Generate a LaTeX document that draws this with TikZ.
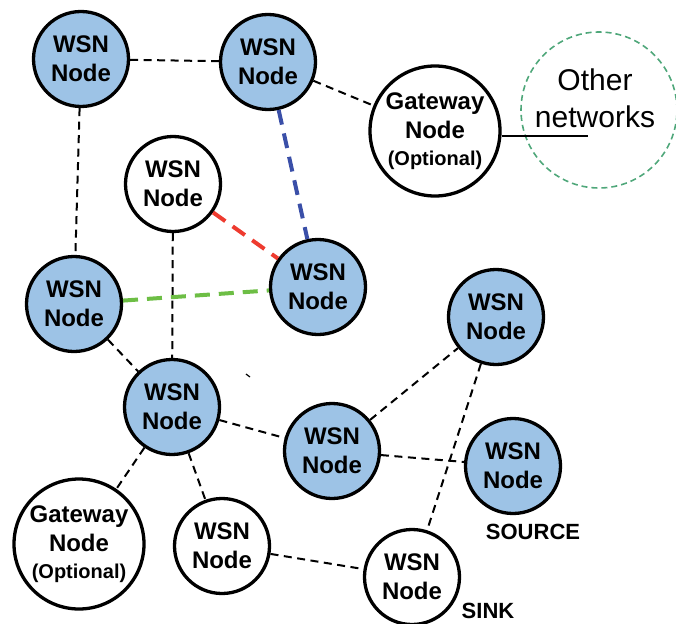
\documentclass[tikz,border=0pt]{standalone}
\usepackage{fontspec}
\setmainfont{Liberation Sans}
\definecolor{nodeblue}{HTML}{9DC3E6}
\definecolor{linkblue}{HTML}{3A4FA8}
\definecolor{linkred}{HTML}{EE3B2F}
\definecolor{linkgreen}{HTML}{6DBE45}
\definecolor{netgreen}{HTML}{4FA77A}
\begin{document}
\begin{tikzpicture}[x=1pt,y=-1pt,
  wsn/.style={circle,draw=black,line width=3.3pt,minimum size=95pt,inner sep=0pt,align=center,
    font=\fontsize{24}{29}\selectfont\bfseries},
  bluenode/.style={wsn,fill=nodeblue},
  whitenode/.style={wsn,fill=white},
  gwnode/.style={wsn,fill=white,minimum size=130pt},
  link/.style={line width=2pt,dash pattern=on 8pt off 5.5pt},
  strong/.style={line width=4pt,dash pattern=on 15pt off 9pt},
  tag/.style={font=\fontsize{22}{26}\selectfont\bfseries,inner sep=0pt}
]
\useasboundingbox (0,0) rectangle (676,623);
% other networks
\node[circle,draw=netgreen,dash pattern=on 6pt off 4pt,line width=1.6pt,minimum size=156pt,inner sep=0pt] (other) at (599,110) {};
\node[font=\fontsize{30}{37}\selectfont,align=center,inner sep=0pt] (othertext) at (595,98) {Other\\networks};
\coordinate (otherend) at (588,136);

\node[bluenode] (A) at (81,59) {WSN\\Node};
\node[bluenode] (B) at (268,62) {WSN\\Node};
\node[gwnode] (GT) at (435,131) {Gateway\\Node\\[-2pt]{\fontsize{20}{24}\selectfont(Optional)}};
\node[whitenode] (C) at (173,184) {WSN\\Node};
\node[bluenode] (D) at (318,287) {WSN\\Node};
\node[bluenode] (E) at (74,304) {WSN\\Node};
\node[bluenode] (F) at (496,317) {WSN\\Node};
\node[bluenode] (G) at (172,407) {WSN\\Node};
\node[bluenode] (H) at (332,451) {WSN\\Node};
\node[bluenode] (I) at (513,466) {WSN\\Node};
\node[gwnode] (GB) at (79,544) {Gateway\\Node\\[-2pt]{\fontsize{20}{24}\selectfont(Optional)}};
\node[whitenode] (J) at (222,546) {WSN\\Node};
\node[whitenode] (S) at (412,577) {WSN\\Node};

\node[tag] (source) at (533,532) {SOURCE};
\node[tag] (sink) at (488,611) {SINK};

% connectors
\draw[link] (A) -- (B);
\draw[link] (B) -- (GT);
\draw[link] (A) -- (E);
\draw[link] (C) -- (G);
\draw[link] (E) -- (G);
\draw[link] (G) -- (H);
\draw[link] (G) -- (GB);
\draw[link] (G) -- (J);
\draw[link] (H) -- (F);
\draw[link] (H) -- (I);
\draw[link] (F) -- (S);
\draw[link] (J) -- (S);
\draw[strong,draw=linkblue] (B) -- (D);
\draw[strong,draw=linkred] (C) -- (D);
\draw[strong,draw=linkgreen] (E) -- (D);
\draw[line width=1.6pt] (GT.east |- otherend) -- (otherend);
% stray mark
\draw[line width=1.2pt] (246,374) -- (250,377);
\end{tikzpicture}
\end{document}
